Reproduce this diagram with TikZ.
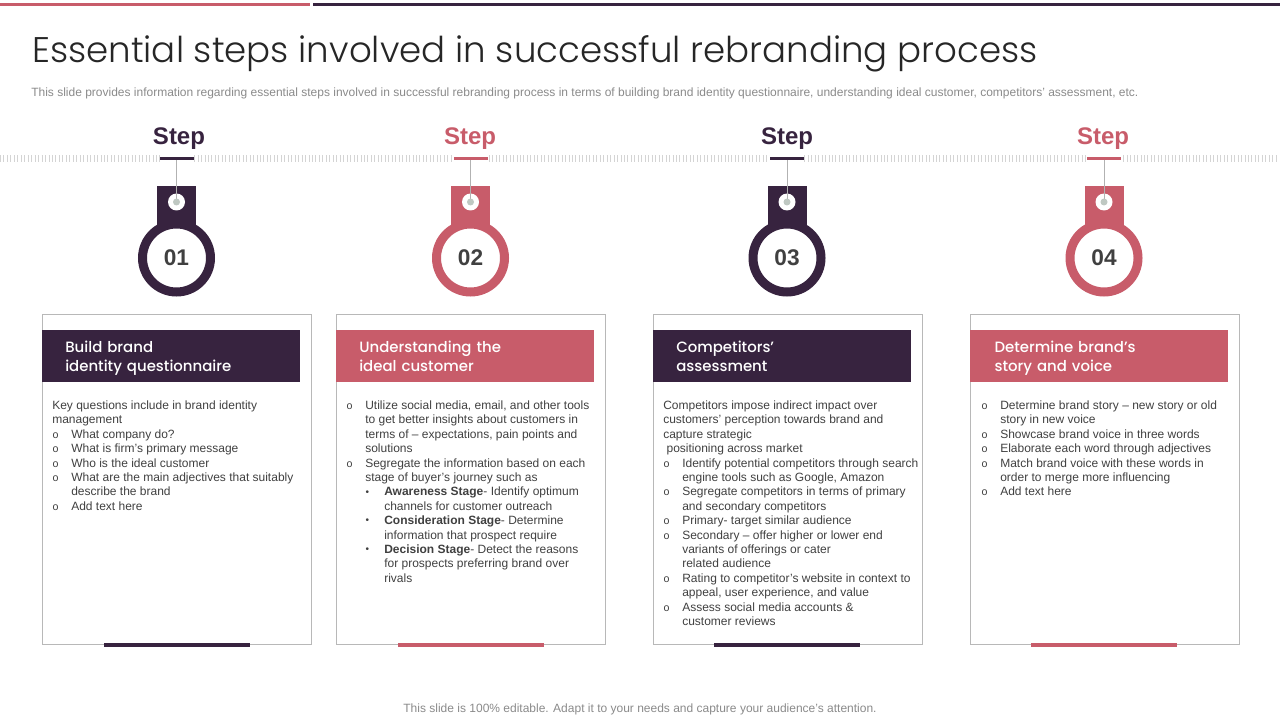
\documentclass[tikz,border=0pt]{standalone}
\usepackage{fontspec}
\setmainfont{Liberation Sans}
\newfontfamily\headfont{Poppins}[UprightFont=* Medium]
\newfontfamily\titlefont{Poppins}[UprightFont=* Light]
\definecolor{plum}{HTML}{37233F}
\definecolor{rose}{HTML}{C85C6A}
\definecolor{bodygray}{HTML}{404040}
\definecolor{notegray}{HTML}{8A8A8A}
\definecolor{pingray}{HTML}{BFC8C2}
\newcommand{\ringitem}{\makebox[14.25pt][l]{\hspace{0.2pt}\fontsize{8}{8}\selectfont o}}
\newcommand{\ringnext}{\hspace*{14.25pt}}
\newcommand{\dotitem}{\hspace*{14.25pt}\makebox[14.25pt][l]{\hspace{0.3pt}\raisebox{0.6pt}{\fontsize{7.5}{8}\selectfont\textbullet}}}
\newcommand{\dotnext}{\hspace*{28.5pt}}
\tikzset{
  topbar/.style={inner sep=0, minimum height=2.25pt, anchor=north west},
  stepword/.style={font=\fontsize{18}{20}\selectfont\bfseries},
  stepbar/.style={inner sep=0, minimum width=25.5pt, minimum height=2.25pt},
  bandgap/.style={inner sep=0, minimum width=25.5pt, minimum height=7.5pt, fill=white},
  tagbox/.style={inner sep=0, minimum width=29.25pt, minimum height=30pt, anchor=north},
  hole/.style={circle, inner sep=0, minimum size=12.75pt, fill=white},
  pin/.style={circle, inner sep=0, minimum size=5.25pt, fill=pingray},
  thread/.style={black!30, line width=0.6pt},
  ring/.style={circle, inner sep=0, minimum size=51pt, line width=6.75pt, fill=white, text=bodygray,
    font=\fontsize{17}{20}\selectfont\bfseries},
  card/.style={draw=black!28, line width=0.6pt, inner sep=0, minimum width=201.9pt, minimum height=247.6pt, anchor=north west},
  headbox/.style={inner sep=0, text=white, anchor=north west, minimum height=39pt, text width=159pt,
    inner xsep=17.25pt, align=left, font=\headfont\fontsize{11.2}{14.25}\selectfont},
  foot/.style={inner sep=0, minimum width=109.5pt, minimum height=3pt, anchor=south},
  bodytext/.style={inner sep=0, anchor=north west, align=left, text=bodygray,
    font=\fontsize{9}{10.8}\selectfont},
}
\begin{document}
\begin{tikzpicture}[x=0.75pt, y=-0.75pt]
  \useasboundingbox (0,0) rectangle (1280,720);
  \node[topbar, fill=rose, minimum width=232.5pt] (barleft) at (0,3) {};
  \node[topbar, fill=plum, minimum width=725.25pt] (barright) at (313,3) {};
  \node[anchor=west, inner sep=0, text=black!85, font=\titlefont\fontsize{26.7}{30}\selectfont] (title) at (32,54)
    {Essential steps involved in successful rebranding process};
  \node[anchor=west, inner sep=0, text=notegray, font=\fontsize{9}{10.8}\selectfont] (subtitle) at (31,93.5)
    {This slide provides information regarding essential steps involved in successful rebranding process in terms of building brand identity questionnaire, understanding ideal customer, competitors’ assessment, etc.};
  % striped band behind the steps
  \coordinate (bandl) at (0,158.5);
  \coordinate (bandr) at (1278,158.5);
  \draw[black!17, line width=5.25pt, dash pattern=on 0.75pt off 1.85pt] (bandl) -- (bandr);
  \foreach \n/\rx/\sx/\cardx/\col/\heading in {
    1/176.5/179/42/plum/{Build brand\\identity questionnaire},
    2/470.5/470/336/rose/{Understanding the\\ideal customer},
    3/787/787/653/plum/{Competitors’\\assessment},
    4/1104/1103/969.7/rose/{\hspace*{1.2pt}Determine brand’s\\\hspace*{1.2pt}story  and voice}} {
    \node[stepword, text=\col] (step\n) at (\sx,139) {Step};
    \node[bandgap] (gap\n) at (\rx,158.5) {};
    \node[stepbar, fill=\col] (bar\n) at (\rx,158.5) {};
    \node[tagbox, fill=\col] (tag\n) at (\rx,186) {};
    \node[hole] (hole\n) at (\rx,202) {};
    \draw[thread] (bar\n) -- (hole\n.center);
    \node[pin] (pin\n) at (\rx,202) {};
    \node[ring, draw=\col] (ring\n) at (\rx,258) {0\n};
    \node[card] (card\n) at (\cardx,314.3) {};
    \node[headbox, fill=\col] (head\n) at (\cardx,330) {\rule{0pt}{13pt}\heading\strut};
    \node[foot, fill=\col] (foot\n) at (\rx,647) {};
  }
  \node[bodytext] (body1) at (52,400.5) {%
    Key questions include in brand identity\\
    management\\
    \ringitem What company do?\\
    \ringitem What is firm’s primary message\\
    \ringitem Who is the ideal customer\\
    \ringitem What are the main adjectives that suitably\\
    \ringnext describe the brand\\
    \ringitem Add text here};
  \node[bodytext] (body2) at (346,400.5) {%
    \ringitem Utilize social media, email, and other tools\\
    \ringnext to get better insights about customers in\\
    \ringnext terms of -- expectations, pain points and\\
    \ringnext solutions\\
    \ringitem Segregate the information based on each\\
    \ringnext stage of buyer’s journey such as\\
    \dotitem\textbf{Awareness Stage}- Identify optimum\\
    \dotnext channels for customer outreach\\
    \dotitem\textbf{Consideration  Stage}- Determine\\
    \dotnext information that prospect require\\
    \dotitem\textbf{Decision  Stage}- Detect the reasons\\
    \dotnext for prospects preferring brand over\\
    \dotnext rivals};
  \node[bodytext] (body3) at (663,400.5) {%
    Competitors impose indirect impact over\\
    customers’ perception towards brand and\\
    capture strategic\\
    \hspace*{2.5pt}positioning across market\\
    \ringitem Identify potential competitors through search\\
    \ringnext engine tools such as Google, Amazon\\
    \ringitem Segregate competitors in terms of primary\\
    \ringnext and secondary competitors\\
    \ringitem Primary- target similar audience\\
    \ringitem Secondary -- offer higher or lower end\\
    \ringnext variants of offerings or cater\\
    \ringnext related audience\\
    \ringitem Rating to competitor’s website in context to\\
    \ringnext appeal, user experience, and value\\
    \ringitem Assess social media accounts \&\\
    \ringnext customer reviews};
  \node[bodytext] (body4) at (981,400.5) {%
    \ringitem Determine brand story -- new story or old\\
    \ringnext story in new voice\\
    \ringitem Showcase brand voice in three words\\
    \ringitem Elaborate each word through adjectives\\
    \ringitem Match brand voice with these words in\\
    \ringnext order to  merge more influencing\\
    \ringitem Add text here};
  \node[inner sep=0, text=notegray, font=\fontsize{9}{10.8}\selectfont] (note) at (640,709.5)
    {This slide is 100\% editable. Adapt it to your needs and capture your audience’s attention.};
\end{tikzpicture}
\end{document}
